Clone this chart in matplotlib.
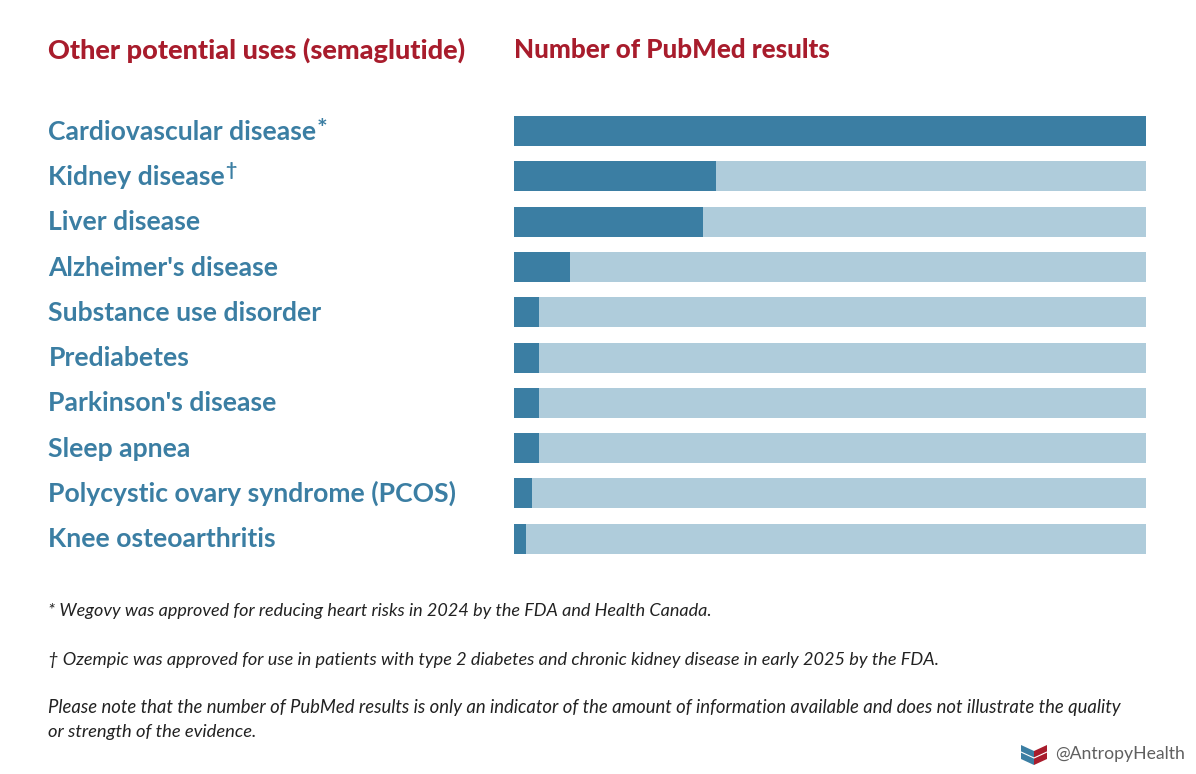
import matplotlib
matplotlib.use("Agg")
import matplotlib.pyplot as plt
from matplotlib.patches import Polygon

categories = ["Cardiovascular disease", "Kidney disease", "Liver disease", "Alzheimer's disease",
              "Substance use disorder", "Prediabetes", "Parkinson's disease", "Sleep apnea",
              "Polycystic ovary syndrome (PCOS)", "Knee osteoarthritis"]
values = [100, 32, 30, 9, 4, 4, 4, 4, 3, 2]
full_scale = [100] * len(values)
marks = {"Cardiovascular disease": "*", "Kidney disease": "†"}
mark_size = {"*": 18, "†": 14}
mark_lift = {"*": 3, "†": 9}
title_left = "Other potential uses (semaglutide)"
title_right = "Number of PubMed results"
notes = [
    "* Wegovy was approved for reducing heart risks in 2024 by the FDA and Health Canada.",
    "† Ozempic was approved for use in patients with type 2 diabetes and chronic kidney disease in early 2025 by the FDA.",
    "Please note that the number of PubMed results is only an indicator of the amount of information available and does not illustrate the quality",
    "or strength of the evidence.",
]
note_y = [611, 660, 708, 732]
note_size = [13.0, 13.02, 13.33, 13.25]

W, H = 1196, 774
DARK, LIGHT, RED, INK = "#3b7ea3", "#afccdb", "#a81c2c", "#222222"
plt.rcParams["font.family"] = ["Lato", "DejaVu Sans"]

fig = plt.figure(figsize=(W / 100, H / 100), dpi=100, facecolor="white")
def fx(p): return p / W
def fy(p): return 1 - p / H

row = 45.3
top = 131 - row / 2
n = len(categories)
ax = fig.add_axes([fx(513.5), fy(top + row * n), 632.5 / W, row * n / H])
ypos = list(range(n))
ax.barh(ypos, full_scale, height=30 / row, color=LIGHT, linewidth=0)
ax.barh(ypos, values, height=30 / row, color=DARK, linewidth=0)
ax.set_xlim(0, 100)
ax.set_ylim(n - 0.5, -0.5)
ax.axis("off")

fig.text(fx(48.5), fy(59), title_left, color=RED, fontsize=19.55, fontweight="black", va="baseline", ha="left")
fig.text(fx(513.5), fy(58), title_right, color=RED, fontsize=18.7, fontweight="black", va="baseline", ha="left")

renderer = fig.canvas.get_renderer()
for i, c in enumerate(categories):
    base = 131 + row * i + 8.7
    t = fig.text(fx(48.5), fy(base), c, color=DARK, fontsize=19.1, fontweight="bold", va="baseline", ha="left")
    if c in marks:
        bb = t.get_window_extent(renderer)
        m = marks[c]
        fig.text(bb.x1 / W, fy(base - mark_lift[m]), m, color=DARK, fontsize=mark_size[m],
                 fontweight="bold", va="baseline", ha="left")

for s, yp, fs in zip(notes, note_y, note_size):
    fig.text(fx(48.5), fy(yp), s, color=INK, fontsize=fs, style="italic", va="center", ha="left")

fig.text(fx(1055), fy(754), "@AntropyHealth", color="#606060", fontsize=12.7, va="center", ha="left")
logo = fig.add_axes([0, 0, 1, 1], facecolor="none")
logo.set_xlim(0, W); logo.set_ylim(H, 0); logo.axis("off")
logo.add_patch(Polygon([(1021, 745), (1034, 751), (1034, 765), (1021, 759)], color="#3b7ea3", lw=0))
logo.add_patch(Polygon([(1034, 751), (1047, 745), (1047, 759), (1034, 765)], color="#a81c2c", lw=0))
logo.plot([1021, 1034, 1047], [752, 758, 752], color="white", lw=0.8)

fig.savefig("out.png", dpi=100, facecolor="white")
